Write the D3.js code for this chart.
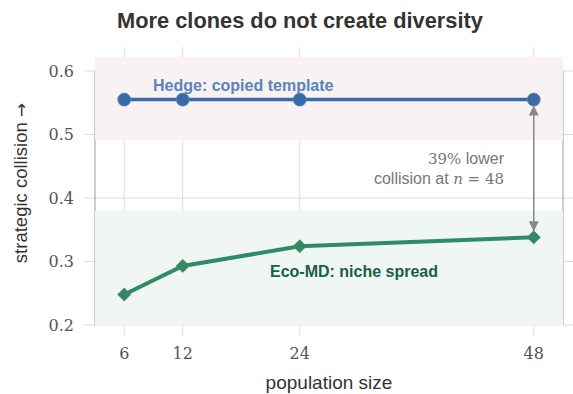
<!DOCTYPE html>
<html>
<head>
<meta charset="utf-8">
<script src="https://cdn.jsdelivr.net/npm/d3@7"></script>
<style>
	body { margin: 0; background: #fff; }
	svg { display: block; }
</style>
</head>
<body>
<svg id="chart" width="573" height="394"></svg>
<script>
// data
const popSizes = [6, 12, 24, 48];
const hedgeValues = [0.555, 0.555, 0.555, 0.555];
const ecoValues = [0.248, 0.293, 0.324, 0.338];
const xTicks = [6, 12, 24, 48];
const yTicks = [0.2, 0.3, 0.4, 0.5, 0.6];
const hedgeBand = [0.491, 0.622];
const ecoBand = [0.2, 0.38];

const svg = d3.select("#chart");
const sans = "'Liberation Sans', Arial, sans-serif";
const serif = "'DejaVu Serif', 'Liberation Serif', serif";

const x = d3.scaleLinear().domain([3, 51]).range([95, 563]);
const y = d3.scaleLinear().domain([0.2, 0.622]).range([325, 57]);

// title
svg.append("text")
	.attr("x", 300).attr("y", 28)
	.attr("text-anchor", "middle")
	.style("font-family", sans).style("font-weight", "bold")
	.style("font-size", "21.8px").style("fill", "#333")
	.text("More clones do not create diversity");

// grid lines
const grid = svg.append("g").attr("stroke", "#dddddd").attr("stroke-width", 1);
grid.selectAll("line.vx").data(xTicks).enter().append("line")
	.attr("x1", d => x(d)).attr("x2", d => x(d))
	.attr("y1", 47).attr("y2", 336);
grid.selectAll("line.hy").data(yTicks).enter().append("line")
	.attr("x1", 84).attr("x2", 573)
	.attr("y1", d => y(d)).attr("y2", d => y(d));

// frame sides (mostly hidden below the bands)
svg.append("g").attr("stroke", "#999").attr("stroke-width", 1)
	.selectAll("line").data(x.range()).enter().append("line")
	.attr("x1", d => d).attr("x2", d => d)
	.attr("y1", y(0.6)).attr("y2", y(0.2));

// regime bands
svg.append("rect")
	.attr("x", x(3)).attr("width", x(51) - x(3))
	.attr("y", y(hedgeBand[1])).attr("height", y(hedgeBand[0]) - y(hedgeBand[1]))
	.attr("fill", "#f8f2f2");
svg.append("rect")
	.attr("x", x(3)).attr("width", x(51) - x(3))
	.attr("y", y(ecoBand[1])).attr("height", y(ecoBand[0]) - y(ecoBand[1]))
	.attr("fill", "#eff6f3");

// tick labels
svg.append("g").selectAll("text").data(yTicks).enter().append("text")
	.attr("x", 74).attr("y", d => y(d) + 6)
	.attr("text-anchor", "end")
	.style("font-family", serif).style("font-size", "16px").style("fill", "#555")
	.text(d => d3.format(".1f")(d));
svg.append("g").selectAll("text").data(xTicks).enter().append("text")
	.attr("x", d => x(d)).attr("y", 359)
	.attr("text-anchor", "middle")
	.style("font-family", serif).style("font-size", "16px").style("fill", "#555")
	.text(d => d);

// axis titles
const yLabel = svg.append("text")
	.attr("transform", "translate(27,183) rotate(-90)")
	.attr("text-anchor", "middle")
	.style("font-family", sans).style("font-size", "18.5px").style("fill", "#333");
yLabel.append("tspan").text("strategic collision ");
yLabel.append("tspan").style("font-family", "'DejaVu Sans', sans-serif").style("font-size", "17px").text("\u2192");
svg.append("text")
	.attr("x", 329).attr("y", 389)
	.attr("text-anchor", "middle")
	.style("font-family", sans).style("font-size", "19px").style("fill", "#333")
	.text("population size");

// series
const hedgeData = popSizes.map((p, i) => ({ p, v: hedgeValues[i] }));
const ecoData = popSizes.map((p, i) => ({ p, v: ecoValues[i] }));
const line = d3.line().x(d => x(d.p)).y(d => y(d.v));

svg.append("path").datum(hedgeData)
	.attr("d", line).attr("fill", "none")
	.attr("stroke", "#3a6ba6").attr("stroke-width", 3.5);
svg.selectAll("circle.hedge").data(hedgeData).enter().append("circle")
	.attr("class", "hedge")
	.attr("cx", d => x(d.p)).attr("cy", d => y(d.v)).attr("r", 6.5)
	.attr("fill", "#3a6ba6").attr("stroke", "#5a86bb").attr("stroke-width", 0.8);

svg.append("path").datum(ecoData)
	.attr("d", line).attr("fill", "none")
	.attr("stroke", "#2e8b63").attr("stroke-width", 4);
svg.selectAll("path.eco").data(ecoData).enter().append("path")
	.attr("class", "eco")
	.attr("d", d3.symbol(d3.symbolDiamond2, 110))
	.attr("transform", d => `translate(${x(d.p)},${y(d.v)})`)
	.attr("fill", "#2e8b63").attr("stroke", "#6f7a74").attr("stroke-width", 0.8);

// series labels
svg.append("text")
	.attr("x", 153).attr("y", 91)
	.style("font-family", sans).style("font-weight", "bold")
	.style("font-size", "16px").style("fill", "#5a84bb")
	.text("Hedge: copied template");
svg.append("text")
	.attr("x", 270).attr("y", 277)
	.style("font-family", sans).style("font-weight", "bold")
	.style("font-size", "16px").style("fill", "#1e5e43")
	.text("Eco-MD: niche spread");

// gap annotation
const nLast = popSizes[popSizes.length - 1];
const defs = svg.append("defs");
defs.append("marker").attr("id", "ah")
	.attr("viewBox", "0 0 10 10").attr("refX", 10).attr("refY", 5)
	.attr("markerWidth", 10).attr("markerHeight", 10)
	.attr("markerUnits", "userSpaceOnUse")
	.attr("orient", "auto-start-reverse")
	.append("path").attr("d", "M0,0 L10,5 L0,10 Z").attr("fill", "#888");
svg.append("line")
	.attr("x1", x(nLast)).attr("x2", x(nLast))
	.attr("y1", y(hedgeValues[3]) + 6).attr("y2", y(ecoValues[3]) - 6)
	.attr("stroke", "#888").attr("stroke-width", 1.5)
	.attr("marker-start", "url(#ah)").attr("marker-end", "url(#ah)");

const pct = Math.round((1 - ecoValues[3] / hedgeValues[3]) * 100);
const note = svg.append("g").style("fill", "#777").style("font-size", "16px");
const t1 = note.append("text").attr("x", 504).attr("y", 164).attr("text-anchor", "end");
t1.append("tspan").style("font-family", serif).style("font-size", "15px").text(pct + "%");
t1.append("tspan").style("font-family", sans).text(" lower");
const t2 = note.append("text").attr("x", 504).attr("y", 184).attr("text-anchor", "end");
t2.append("tspan").style("font-family", sans).text("collision at ");
t2.append("tspan").style("font-family", serif).style("font-style", "italic").style("font-size", "15px").text("n");
t2.append("tspan").style("font-family", serif).style("font-size", "15px").text(" = " + nLast);
</script>
</body>
</html>
